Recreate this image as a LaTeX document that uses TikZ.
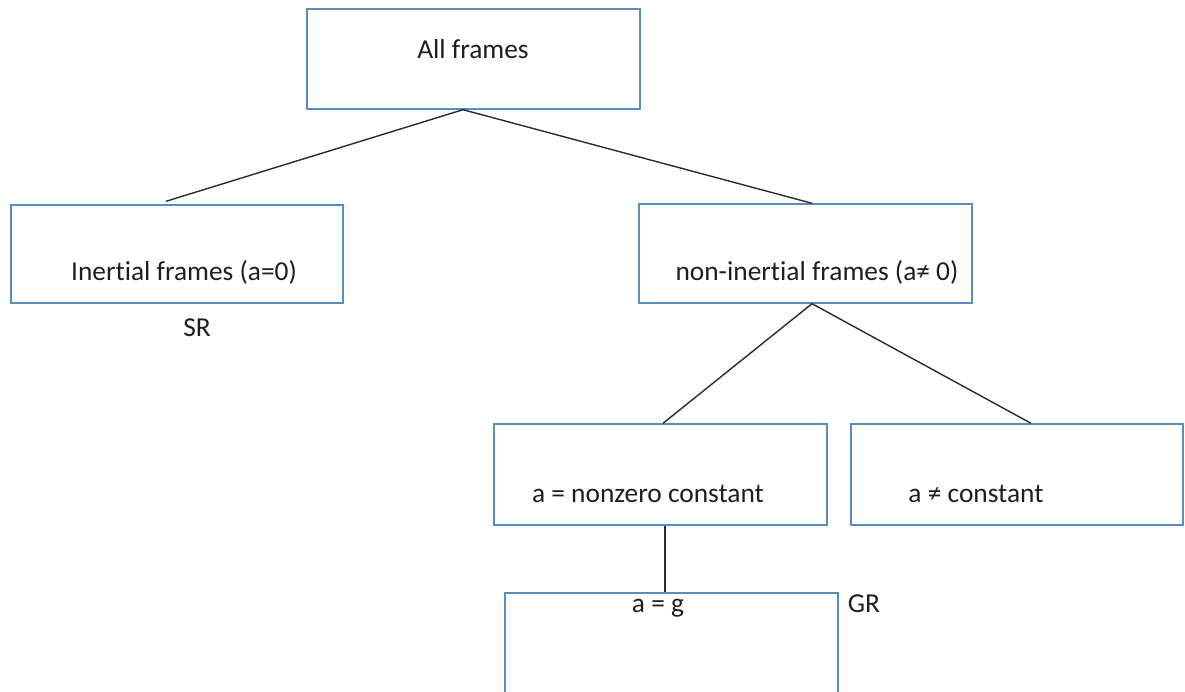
\documentclass[tikz,border=0pt]{standalone}
\usepackage{fontspec}
\setmainfont{Carlito}[Ligatures=NoCommon]
\usetikzlibrary{positioning}
\definecolor{FBlue}{HTML}{5B8CC0}
\definecolor{FLine}{HTML}{2B2B2B}
\definecolor{FText}{HTML}{1E1E1E}

\begin{document}
\begin{tikzpicture}[
  x=1pt,y=-1pt,
  every node/.style={font=\fontsize{27.4}{32}\selectfont,text=FText},
  frame/.style={draw=FBlue,line width=1.4pt,minimum width=333pt,
    minimum height=99pt,inner sep=0pt},
  caption/.style={anchor=base,inner sep=0pt},
  link/.style={line width=1.4pt,color=FLine}
]
  \useasboundingbox (0,0) rectangle (1185,692);
  \clip (0,0) rectangle (1185,692);
  % boxes
  \node[frame,minimum height=100pt] (all) at (473.5,59) {};
  \node[frame,minimum width=332pt,minimum height=98pt] (inertial) at (177,254) {};
  \node[frame] (nonin) at (805.5,253.5) {};
  \node[frame,minimum height=101pt] (nonzero) at (660.5,474.5) {};
  \node[frame,minimum width=332pt,minimum height=101pt] (neq) at (1017,474.5) {};
  \node[frame,minimum height=104pt] (ag) at (671.5,645) {};
  % texts
  \node[caption] (allText) at (473,59) {All frames};
  \node[caption] (inertialText) at (184,281) {Inertial frames (a=0)};
  \node[caption] (sr) at (197,336) {SR};
  \node[caption] (noninText) at (817,281) {non-inertial frames (a≠ 0)};
  \node[caption] (nonzeroText) at (648,502) {a = nonzero constant};
  \node[caption] (neqText) at (976,502) {a ≠ constant};
  \node[caption] (agText) at (658,612) {a = g};
  \node[caption] (gr) at (864,612) {GR};
  % connectors
  \draw[link] ([xshift=-10.5pt]all.south) -- ([xshift=-11pt,yshift=3pt]inertial.north);
  \draw[link] ([xshift=-10.5pt]all.south) -- ([xshift=6.5pt]nonin.north);
  \draw[link] ([xshift=6.5pt]nonin.south) -- ([xshift=2.5pt]nonzero.north);
  \draw[link] ([xshift=6.5pt]nonin.south) -- ([xshift=14pt]neq.north);
  \draw[link] ([xshift=4.5pt]nonzero.south) -- ([xshift=4.5pt]nonzero.south |- ag.north);
\end{tikzpicture}
\end{document}
